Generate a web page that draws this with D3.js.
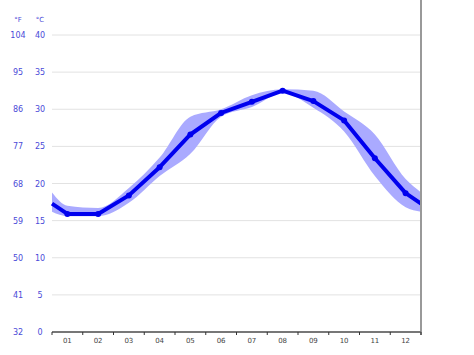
<!DOCTYPE html>
<html>
<head>
<meta charset="utf-8">
<script src="https://cdn.jsdelivr.net/npm/d3@7"></script>
<style>
body{margin:0;background:#fff;}
text{font-family:"DejaVu Sans",sans-serif;}
</style>
</head>
<body>
<svg id="chart" width="474" height="355"></svg>
<script>
var months = ["01","02","03","04","05","06","07","08","09","10","11","12"];
var avgTemp = [15.9,15.9,18.4,22.2,26.6,29.5,31.0,32.5,31.1,28.5,23.4,18.7];
var maxTemp = [17.0,16.7,19.4,23.5,29.0,30.0,31.9,32.7,32.5,29.7,26.6,20.6];
var minTemp = [15.6,15.6,17.4,21.0,24.0,29.0,30.3,32.2,30.2,27.0,21.0,16.8];
var celsiusTicks = [0,5,10,15,20,25,30,35,40];

var plotLeft = 52, plotRight = 421, plotTop = 35, plotBottom = 332;
var svg = d3.select("#chart");

var x = d3.scaleLinear().domain([0,12]).range([plotLeft,plotRight]);
var y = d3.scaleLinear().domain([0,40]).range([plotBottom,plotTop]);

// wrap year ends: value at the edges is midpoint of Dec and Jan
function withEdges(arr){
	var edge = (arr[0]+arr[11])/2;
	var pts = [[0,edge]];
	arr.forEach(function(v,i){ pts.push([i+0.5,v]); });
	pts.push([12,edge]);
	return pts;
}

// grid
svg.selectAll(".grid")
	.data(celsiusTicks.filter(function(d){return d>0;}))
	.enter().append("line")
	.attr("x1",plotLeft).attr("x2",plotRight)
	.attr("y1",function(d){return y(d);}).attr("y2",function(d){return y(d);})
	.attr("stroke","#e2e2e2").attr("stroke-width",1);

// labels
svg.selectAll(".cLabel")
	.data(celsiusTicks)
	.enter().append("text")
	.attr("x",40).attr("y",function(d){return y(d)+3;})
	.attr("text-anchor","middle").attr("font-size",8).attr("fill","#4a4ad8")
	.text(function(d){return d;});
svg.selectAll(".fLabel")
	.data(celsiusTicks)
	.enter().append("text")
	.attr("x",18).attr("y",function(d){return y(d)+3;})
	.attr("text-anchor","middle").attr("font-size",8).attr("fill","#4a4ad8")
	.text(function(d){return Math.round(d*9/5+32);});
svg.append("text").attr("x",18).attr("y",22).attr("text-anchor","middle")
	.attr("font-size",7).attr("fill","#4a4ad8").text("°F");
svg.append("text").attr("x",40).attr("y",22).attr("text-anchor","middle")
	.attr("font-size",7).attr("fill","#4a4ad8").text("°C");

// band
var lo = withEdges(minTemp), hi = withEdges(maxTemp);
var band = d3.area()
	.curve(d3.curveMonotoneX)
	.x(function(d,i){return x(lo[i][0]);})
	.y0(function(d,i){return y(lo[i][1]);})
	.y1(function(d,i){return y(hi[i][1]);});
svg.append("path").datum(lo).attr("d",band).attr("fill","#aaaaff");

// line
var avg = withEdges(avgTemp);
var line = d3.line().x(function(d){return x(d[0]);}).y(function(d){return y(d[1]);});
svg.append("path").datum(avg).attr("d",line)
	.attr("fill","none").attr("stroke","#0000ee").attr("stroke-width",4)
	.attr("stroke-linejoin","round");
svg.selectAll(".dot")
	.data(avgTemp)
	.enter().append("circle")
	.attr("cx",function(d,i){return x(i+0.5);})
	.attr("cy",function(d){return y(d);})
	.attr("r",3).attr("fill","#0000ee");

// axes frame
svg.append("line").attr("x1",plotRight).attr("x2",plotRight).attr("y1",0).attr("y2",plotBottom+3)
	.attr("stroke","#999").attr("stroke-width",2);
svg.append("line").attr("x1",plotLeft).attr("x2",plotRight).attr("y1",plotBottom).attr("y2",plotBottom)
	.attr("stroke","#777").attr("stroke-width",2);
svg.selectAll(".tick")
	.data(d3.range(0,13))
	.enter().append("line")
	.attr("x1",function(d){return x(d);}).attr("x2",function(d){return x(d);})
	.attr("y1",plotBottom).attr("y2",plotBottom+3)
	.attr("stroke","#333").attr("stroke-width",1);
svg.selectAll(".mLabel")
	.data(months)
	.enter().append("text")
	.attr("x",function(d,i){return x(i+0.5);}).attr("y",plotBottom+11)
	.attr("text-anchor","middle").attr("font-size",7).attr("fill","#444")
	.text(function(d){return d;});
</script>
</body>
</html>
